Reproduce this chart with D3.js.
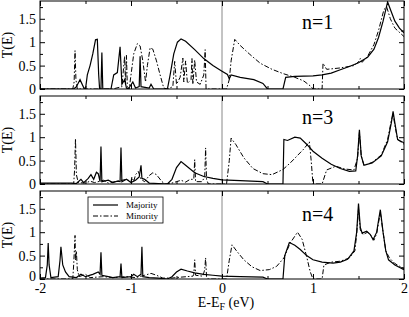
<!DOCTYPE html>
<html>
<head>
<meta charset="utf-8">
<script src="https://cdn.jsdelivr.net/npm/d3@7"></script>
<style>
  body { margin: 0; background: #fff; }
  svg text { font-family: "Liberation Serif", "DejaVu Serif", serif !important; }
</style>
</head>
<body>
<div class="chart"></div>
<script>
// transmission T(E), pairs of [E - E_F, T]
const majority1 = [[-2,0],[-1.63,0],[-1.6,0.05],[-1.56,0.2],[-1.52,0.03],[-1.5,0],[-1.48,0.3],[-1.45,0.5],[-1.42,0.75],[-1.39,1.05],[-1.37,1.06],[-1.355,0.3],[-1.345,0],[-1.33,0],[-1.32,0.78],[-1.31,0],[-1.22,0],[-1.19,0.3],[-1.15,0.35],[-1.12,0.9],[-1.1,0.1],[-1.07,0.2],[-1.05,0.02],[-1.03,0],[-0.98,0.15],[-0.95,0.02],[-0.91,0.05],[-0.9,0.7],[-0.89,0.05],[-0.8,0.02],[-0.78,0.1],[-0.75,0],[-0.6,0],[-0.57,0.3],[-0.53,0.75],[-0.49,1.0],[-0.45,1.07],[-0.4,1.02],[-0.3,0.84],[-0.2,0.65],[-0.1,0.5],[0,0.38],[0.06,0.31],[0.08,0.22],[0.1,0.3],[0.2,0.25],[0.35,0.2],[0.45,0.12],[0.5,0],[0.67,0],[0.7,0.25],[0.8,0.27],[1.0,0.28],[1.1,0.3],[1.2,0.34],[1.3,0.41],[1.4,0.48],[1.5,0.56],[1.6,0.68],[1.67,0.85],[1.72,1.1],[1.77,1.45],[1.82,1.86],[1.86,1.65],[1.9,1.45],[1.95,1.3],[2.0,1.2]];
const minority1 = [[-2,0],[-1.64,0],[-1.625,0.15],[-1.615,0.82],[-1.605,0.2],[-1.59,0],[-1.2,0],[-1.1,0.05],[-1.07,0.7],[-1.06,0.1],[-1.05,0.72],[-1.04,0.05],[-1.02,0],[-1.0,0.3],[-0.97,0.75],[-0.93,0.97],[-0.9,0.92],[-0.87,0.6],[-0.84,0.15],[-0.82,0.5],[-0.79,0.88],[-0.76,0.85],[-0.72,0.6],[-0.68,0.3],[-0.64,0.02],[-0.6,0],[-0.54,0.05],[-0.52,0.59],[-0.5,0.1],[-0.46,0.25],[-0.43,0.66],[-0.42,0.15],[-0.4,0.6],[-0.38,0.12],[-0.34,0.2],[-0.33,0.65],[-0.32,0.1],[-0.3,0.62],[-0.28,0.15],[-0.24,0.1],[-0.2,0.3],[-0.185,0.84],[-0.175,0],[0.05,0],[0.08,0.2],[0.1,0.6],[0.14,1.06],[0.2,0.93],[0.3,0.75],[0.42,0.55],[0.55,0.42],[0.67,0.33],[0.8,0.25],[0.9,0.17],[0.98,0.05],[1.0,0],[1.1,0],[1.11,0.55],[1.15,0.42],[1.3,0.45],[1.45,0.5],[1.5,0.58],[1.52,0.65],[1.54,0.57],[1.6,0.7],[1.67,0.95],[1.72,1.25],[1.78,1.7],[1.81,1.75],[1.85,1.5],[1.9,1.3],[2.0,1.12]];

const majority3 = [[-2,0.02],[-1.65,0.02],[-1.6,0.01],[-1.55,0.1],[-1.52,0.03],[-1.47,0.12],[-1.44,0.2],[-1.41,0.1],[-1.38,0.25],[-1.36,0.22],[-1.34,0.05],[-1.33,0.8],[-1.32,0.05],[-1.25,0.08],[-1.2,0.03],[-1.15,0.06],[-1.12,0.05],[-1.11,0.78],[-1.1,0.05],[-1.05,0.1],[-1.0,0.03],[-0.95,0.08],[-0.91,0.15],[-0.89,0.4],[-0.88,0.12],[-0.85,0.1],[-0.8,0.02],[-0.6,0],[-0.55,0.1],[-0.5,0.35],[-0.45,0.48],[-0.4,0.4],[-0.3,0.24],[-0.2,0.16],[-0.1,0.12],[0,0.09],[0.2,0.07],[0.45,0.05],[0.5,0],[0.67,0],[0.68,0.95],[0.72,0.93],[0.8,1.0],[0.86,0.98],[0.93,0.85],[1.0,0.7],[1.1,0.55],[1.2,0.42],[1.3,0.33],[1.4,0.27],[1.47,0.28],[1.49,0.6],[1.51,1.16],[1.53,0.6],[1.56,0.4],[1.65,0.45],[1.75,0.6],[1.82,0.9],[1.86,1.3],[1.88,1.55],[1.9,1.3],[1.93,0.95],[2.0,0.88]];
const minority3 = [[-2,0],[-1.63,0],[-1.62,0.3],[-1.61,0.97],[-1.6,0.2],[-1.58,0.03],[-1.5,0.02],[-1.45,0.06],[-1.4,0.03],[-1.3,0.08],[-1.25,0.02],[-1.15,0.06],[-1.05,0.1],[-1.0,0.05],[-0.99,0.15],[-0.97,0.05],[-0.95,0.2],[-0.92,0.27],[-0.89,0.1],[-0.85,0.05],[-0.8,0.18],[-0.76,0.24],[-0.72,0.2],[-0.66,0.05],[-0.62,0],[-0.55,0.02],[-0.5,0.05],[-0.45,0.08],[-0.4,0.04],[-0.35,0.1],[-0.31,0.1],[-0.3,0.52],[-0.29,0.05],[-0.22,0.05],[-0.19,0.15],[-0.18,0.77],[-0.17,0.1],[-0.15,0],[0.05,0],[0.08,0.5],[0.1,0.98],[0.15,0.85],[0.24,0.56],[0.34,0.33],[0.45,0.22],[0.55,0.2],[0.67,0.31],[0.75,0.45],[0.82,0.59],[0.9,0.75],[0.96,0.9],[0.98,0.5],[1.0,0],[1.1,0],[1.15,0.3],[1.25,0.38],[1.35,0.32],[1.45,0.3],[1.49,0.55],[1.51,1.1],[1.53,0.6],[1.56,0.4],[1.65,0.46],[1.75,0.62],[1.82,0.95],[1.86,1.35],[1.88,1.5],[1.9,1.25],[1.93,0.95],[2.0,0.85]];

const majority4 = [[-2,0.02],[-1.94,0.03],[-1.92,0.3],[-1.91,0.77],[-1.9,0.3],[-1.88,0.03],[-1.8,0.05],[-1.78,0.4],[-1.77,0.69],[-1.75,0.3],[-1.72,0.15],[-1.68,0.05],[-1.6,0.03],[-1.55,0.1],[-1.5,0.05],[-1.42,0.1],[-1.36,0.15],[-1.34,0.1],[-1.33,0.57],[-1.32,0.08],[-1.25,0.05],[-1.2,0.03],[-1.12,0.05],[-1.11,0.33],[-1.1,0.03],[-1.0,0.05],[-0.97,0.1],[-0.93,0.05],[-0.89,0.1],[-0.88,0.69],[-0.87,0.05],[-0.8,0.03],[-0.7,0.02],[-0.6,0],[-0.55,0.05],[-0.5,0.15],[-0.45,0.21],[-0.38,0.17],[-0.3,0.13],[-0.2,0.1],[-0.1,0.08],[0,0.06],[0.2,0.05],[0.45,0.04],[0.5,0],[0.67,0],[0.69,0.5],[0.74,0.78],[0.8,0.72],[0.86,0.63],[0.93,0.5],[1.0,0.41],[1.1,0.36],[1.22,0.34],[1.3,0.36],[1.38,0.42],[1.45,0.6],[1.48,1.0],[1.5,1.61],[1.52,1.1],[1.54,0.98],[1.59,1.02],[1.63,0.95],[1.66,0.84],[1.7,1.0],[1.72,1.25],[1.74,1.48],[1.77,1.0],[1.8,0.6],[1.83,0.41],[1.9,0.3],[2.0,0.2]];
const minority4 = [[-2,0],[-1.64,0],[-1.63,0.3],[-1.615,0.93],[-1.61,0.4],[-1.6,0.6],[-1.59,0.2],[-1.57,0.05],[-1.5,0.1],[-1.45,0.03],[-1.3,0.05],[-1.2,0.03],[-1.05,0.05],[-0.95,0.03],[-0.85,0.08],[-0.78,0.12],[-0.72,0.08],[-0.65,0.02],[-0.55,0.02],[-0.45,0.04],[-0.32,0.06],[-0.31,0.1],[-0.3,0.41],[-0.29,0.08],[-0.21,0.06],[-0.19,0.2],[-0.18,0.45],[-0.17,0.05],[-0.15,0],[0.05,0],[0.08,0.4],[0.11,0.73],[0.16,0.6],[0.24,0.41],[0.33,0.26],[0.42,0.18],[0.52,0.2],[0.6,0.27],[0.68,0.45],[0.75,0.77],[0.83,1.0],[0.88,0.85],[0.93,0.48],[0.97,0.15],[1.0,0],[1.1,0],[1.12,0.3],[1.2,0.36],[1.3,0.38],[1.4,0.45],[1.46,0.6],[1.48,0.95],[1.5,1.5],[1.52,1.05],[1.55,0.95],[1.6,1.0],[1.64,0.92],[1.67,0.83],[1.7,0.97],[1.72,1.2],[1.74,1.42],[1.77,1.0],[1.8,0.6],[1.84,0.45],[1.9,0.33],[2.0,0.22]];

const panelLabels = ['n=1', 'n=3', 'n=4'];
const seriesNames = ['Majority', 'Minority'];
const xTicks = [-2, -1, 0, 1, 2];
const yTicks = [0, 0.5, 1, 1.5];

const panels = [
  { label: panelLabels[0], maj: majority1, min: minority1 },
  { label: panelLabels[1], maj: majority3, min: minority3 },
  { label: panelLabels[2], maj: majority4, min: minority4 },
];

const W = 409, H = 317;
const left = 40, right = 5;
const panelH = 88, gap = 7, top0 = 1;
const width = W - left - right;
const serif = 'Liberation Serif, DejaVu Serif, serif';

const svg = d3.select('.chart').append('svg')
  .attr('width', W).attr('height', H)
  .attr('font-family', serif);

const x = d3.scaleLinear().domain([-2, 2]).range([0, width]);
const y = d3.scaleLinear().domain([0, 1.88]).range([panelH, 0]);

const line = d3.line().x(d => x(d[0])).y(d => y(d[1]));

svg.append('defs').append('clipPath').attr('id', 'clip')
  .append('rect').attr('width', width).attr('height', panelH);

const dashDot = '5,2,1.5,2';

panels.forEach((p, i) => {
  const g = svg.append('g')
    .attr('transform', `translate(${left}, ${top0 + i * (panelH + gap)})`);

  // zero line
  g.append('line')
    .attr('x1', x(0)).attr('x2', x(0))
    .attr('y1', 0).attr('y2', panelH)
    .attr('stroke', '#888').attr('stroke-width', 1);

  const plot = g.append('g').attr('clip-path', 'url(#clip)');
  plot.append('path').datum(p.min)
    .attr('d', line).attr('fill', 'none')
    .attr('stroke', '#000').attr('stroke-width', 1)
    .attr('stroke-dasharray', dashDot);
  plot.append('path').datum(p.maj)
    .attr('d', line).attr('fill', 'none')
    .attr('stroke', '#000').attr('stroke-width', 1.2);

  // inward ticks on all sides
  const tick = (axis, tr) => {
    const a = g.append('g').attr('transform', tr || null).call(axis);
    a.attr('font-family', serif);
    a.select('.domain').remove();
    a.selectAll('text').attr('font-size', 14).attr('fill', '#000');
    return a;
  };
  const yl = tick(d3.axisLeft(y).tickValues(yTicks).tickSize(-5).tickPadding(4).tickFormat(d3.format('')));
  // nudge the bottom "0" up a little on the last panel so it clears the x labels
  if (i === 2) yl.selectAll('.tick text').filter(d => d === 0).attr('dy', '0.1em');
  tick(d3.axisLeft(y).tickValues(d3.range(0.25, 1.8, 0.5)).tickSize(-3).tickFormat(''));
  tick(d3.axisRight(y).tickValues(yTicks).tickSize(-5).tickFormat(''), `translate(${width},0)`);
  tick(d3.axisRight(y).tickValues(d3.range(0.25, 1.8, 0.5)).tickSize(-3).tickFormat(''), `translate(${width},0)`);
  tick(d3.axisTop(x).tickValues(xTicks).tickSize(-5).tickFormat(''));
  tick(d3.axisTop(x).tickValues([-1.5, -0.5, 0.5, 1.5]).tickSize(-3).tickFormat(''));
  tick(d3.axisBottom(x).tickValues(xTicks).tickSize(-5).tickPadding(4)
    .tickFormat(i === 2 ? (d => String(d)) : ''), `translate(0,${panelH})`);
  tick(d3.axisBottom(x).tickValues([-1.5, -0.5, 0.5, 1.5]).tickSize(-3).tickFormat(''), `translate(0,${panelH})`);

  g.selectAll('.tick line').attr('stroke', '#000');

  g.append('rect')
    .attr('width', width).attr('height', panelH)
    .attr('fill', 'none').attr('stroke', '#000').attr('stroke-width', 1);

  g.append('text')
    .attr('x', 262).attr('y', i === 2 ? 30 : 28)
    .attr('font-family', serif)
    .attr('font-size', 20)
    .text(p.label);

  g.append('text')
    .attr('transform', `translate(-28, ${panelH / 2}) rotate(-90)`)
    .attr('text-anchor', 'middle')
    .attr('font-family', serif)
    .attr('font-size', 14)
    .text('T(E)');

  if (i === 2) {
    const lg = g.append('g').attr('transform', 'translate(48, 6)');
    lg.append('rect').attr('width', 75).attr('height', 26)
      .attr('fill', '#fff').attr('stroke', '#000').attr('stroke-width', 0.8);
    seriesNames.forEach((name, k) => {
      const yy = 8 + k * 11;
      lg.append('line').attr('x1', 5).attr('x2', 30).attr('y1', yy).attr('y2', yy)
        .attr('stroke', '#000').attr('stroke-width', k === 0 ? 1.2 : 1)
        .attr('stroke-dasharray', k === 0 ? null : dashDot);
      lg.append('text').attr('x', 38).attr('y', yy + 3)
        .attr('font-family', serif)
        .attr('font-size', 9).text(name);
    });
  }
});

// x axis title
const xt = svg.append('text')
  .attr('x', left + x(0) + 4).attr('y', 307)
  .attr('text-anchor', 'middle')
  .attr('font-family', serif)
  .attr('font-size', 14);
xt.append('tspan').text('E-E');
xt.append('tspan').attr('font-size', 10).attr('dy', 3).text('F');
xt.append('tspan').attr('dy', -3).text(' (eV)');
</script>
</body>
</html>
